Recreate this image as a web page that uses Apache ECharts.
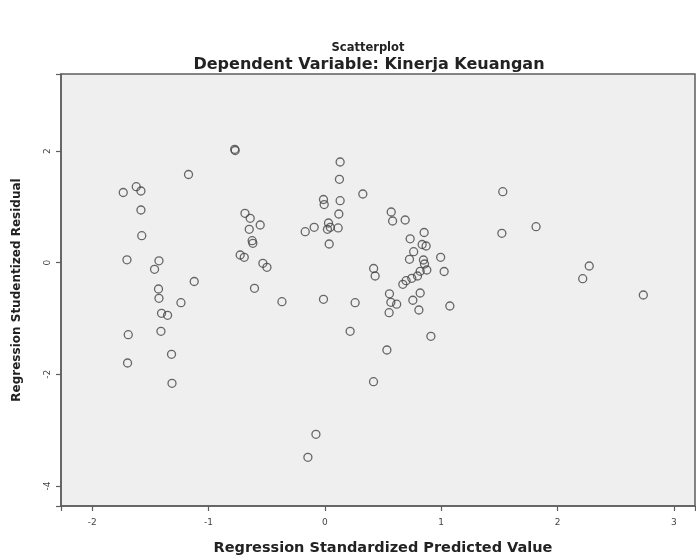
<!DOCTYPE html>
<html>
<head>
<meta charset="utf-8">
<script src="https://cdn.jsdelivr.net/npm/echarts@6/dist/echarts.min.js"></script>
<style>html,body{margin:0;padding:0;background:#fff}#c{width:696px;height:559px}</style>
</head>
<body>
<div id="c"></div>
<script>
const chartTitle = 'Scatterplot';
const chartSubtitle = 'Dependent Variable: Kinerja Keuangan';
const xAxisTitle = 'Regression Standardized Predicted Value';
const yAxisTitle = 'Regression Studentized Residual';
const xRange = [-2.268, 3.181];
const yRange = [-4.358, 3.38];

const predicted = [
  -1.172,-1.733,-1.621,-1.581,-1.581,-1.574,-1.701,-1.426,-1.464,-1.123,
  -1.430,-1.426,-1.237,-1.404,-1.352,-1.690,-1.409,-1.318,-1.696,-1.314,
  -0.775,-0.771,-0.687,-0.642,-0.556,-0.650,-0.625,-0.619,-0.728,-0.693,
  -0.533,-0.498,-0.605,-0.369,-0.169,-0.092,-0.012,-0.006,0.031,0.046,
  0.022,0.114,0.037,0.131,0.125,0.326,0.131,0.120,-0.012,0.260,
  0.217,-0.077,-0.146,0.570,0.582,0.690,0.733,0.853,0.836,0.870,
  0.763,0.727,0.847,0.856,0.995,1.025,0.419,0.432,0.819,0.876,
  0.796,0.747,0.698,0.670,0.555,0.567,0.617,0.552,0.819,0.756,
  0.808,1.074,0.911,0.533,0.418,1.529,1.521,1.815,2.272,2.216,
  2.737
];
const residual = [
  1.580,1.257,1.361,1.284,0.944,0.484,0.052,0.034,-0.118,-0.337,
  -0.471,-0.638,-0.716,-0.906,-0.942,-1.290,-1.229,-1.641,-1.797,-2.160,
  2.031,2.010,0.885,0.795,0.675,0.598,0.394,0.347,0.138,0.097,
  -0.011,-0.082,-0.459,-0.699,0.555,0.634,1.132,1.042,0.711,0.634,
  0.598,0.622,0.335,1.804,1.494,1.231,1.111,0.872,-0.656,-0.716,
  -1.229,-3.074,-3.486,0.908,0.747,0.765,0.428,0.541,0.326,0.299,
  0.197,0.061,0.048,-0.023,0.097,-0.158,-0.104,-0.238,-0.154,-0.131,
  -0.238,-0.279,-0.322,-0.387,-0.557,-0.709,-0.743,-0.896,-0.543,-0.673,
  -0.847,-0.776,-1.318,-1.564,-2.131,1.272,0.527,0.645,-0.059,-0.287,
  -0.579
];

const points = predicted.map((x, i) => [x, residual[i]]);
const intOnly = v => Math.abs(v - Math.round(v)) < 1e-9 ? String(Math.round(v)) : '';
const font = '"DejaVu Sans", "Liberation Sans", Arial, sans-serif';
const axisColor = '#5e5e5e';

const chart = echarts.init(document.getElementById('c'), null, {renderer: 'canvas'});
chart.setOption({
  animation: false,
  backgroundColor: '#ffffff',
  title: [
    {text: chartTitle, left: 363, top: 37, textAlign: 'center',
     textStyle: {fontFamily: font, fontSize: 11.5, fontWeight: 'bold', color: '#222'}},
    {text: chartSubtitle, left: 364, top: 52, textAlign: 'center',
     textStyle: {fontFamily: font, fontSize: 16, fontWeight: 'bold', color: '#222'}}
  ],
  grid: {left: 61, top: 74, right: 1, bottom: 53, show: true,
         containLabel: false, outerBoundsMode: 'none',
         backgroundColor: '#efefef', borderColor: axisColor, borderWidth: 1.5},
  xAxis: {
    type: 'value', min: xRange[0], max: xRange[1], splitNumber: 5,
    name: xAxisTitle, nameLocation: 'middle', nameGap: 35,
    nameTextStyle: {fontFamily: font, fontSize: 14.5, fontWeight: 'bold', color: '#222', padding: [0,0,0,10]},
    axisLine: {show: true, onZero: false, lineStyle: {color: axisColor, width: 1.5}},
    axisTick: {show: true, inside: false, length: 5, lineStyle: {color: axisColor, width: 1.2}},
    axisLabel: {formatter: intOnly, fontFamily: font, fontSize: 9, color: '#444', margin: 12},
    splitLine: {show: false}
  },
  yAxis: {
    type: 'value', min: yRange[0], max: yRange[1], splitNumber: 4,
    name: yAxisTitle, nameLocation: 'middle', nameGap: 38, nameRotate: 90,
    nameTextStyle: {fontFamily: font, fontSize: 12, fontWeight: 'bold', color: '#222'},
    axisLine: {show: true, onZero: false, lineStyle: {color: axisColor, width: 1.5}},
    axisTick: {show: true, inside: false, length: 5, lineStyle: {color: axisColor, width: 1.2}},
    axisLabel: {formatter: intOnly, fontFamily: font, fontSize: 9, color: '#444', rotate: 90, margin: 9},
    splitLine: {show: false}
  },
  series: [{
    type: 'scatter',
    data: points,
    symbol: 'circle',
    symbolSize: 8,
    itemStyle: {color: 'rgba(0,0,0,0)', borderColor: '#444', borderWidth: 1.3}
  }]
});
</script>
</body>
</html>
